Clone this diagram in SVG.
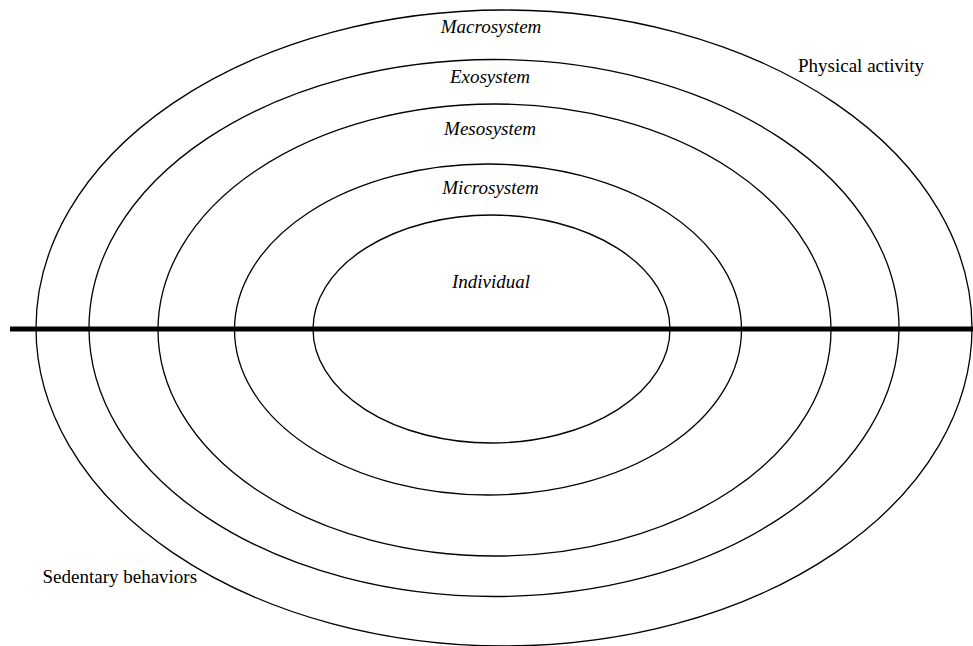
<svg xmlns="http://www.w3.org/2000/svg" width="973" height="646" viewBox="0 0 973 646">
<style>
.ring{fill:none;stroke:#000;stroke-width:1.3}
.lbl{font-family:"Liberation Serif","Times New Roman",serif;font-size:19px;font-style:italic;fill:#000;text-anchor:middle}
.side{font-family:"Liberation Serif","Times New Roman",serif;font-size:19px;fill:#000}
</style>
<rect width="973" height="646" fill="#fff"/>
<g id="macrosystem">
<ellipse class="ring" cx="504" cy="328" rx="468" ry="318"/>
<text class="lbl" x="491" y="33">Macrosystem</text>
</g>
<g id="exosystem">
<ellipse class="ring" cx="494" cy="328" rx="405" ry="268.5"/>
<text class="lbl" x="490" y="83">Exosystem</text>
</g>
<g id="mesosystem">
<ellipse class="ring" cx="494.5" cy="330" rx="336.5" ry="226"/>
<text class="lbl" x="490" y="135">Mesosystem</text>
</g>
<g id="microsystem">
<ellipse class="ring" cx="488" cy="329.5" rx="253.5" ry="165.5"/>
<text class="lbl" x="490.5" y="194">Microsystem</text>
</g>
<g id="individual">
<ellipse class="ring" cx="491.5" cy="329" rx="178.5" ry="114"/>
<text class="lbl" x="491" y="288">Individual</text>
</g>
<g id="connectors">
<line x1="10" y1="329" x2="973" y2="329" stroke="#000" stroke-width="5"/>
</g>
<g id="physical-activity">
<text class="side" x="798" y="72">Physical activity</text>
</g>
<g id="sedentary-behaviors">
<text class="side" x="42.5" y="583">Sedentary behaviors</text>
</g>
</svg>
